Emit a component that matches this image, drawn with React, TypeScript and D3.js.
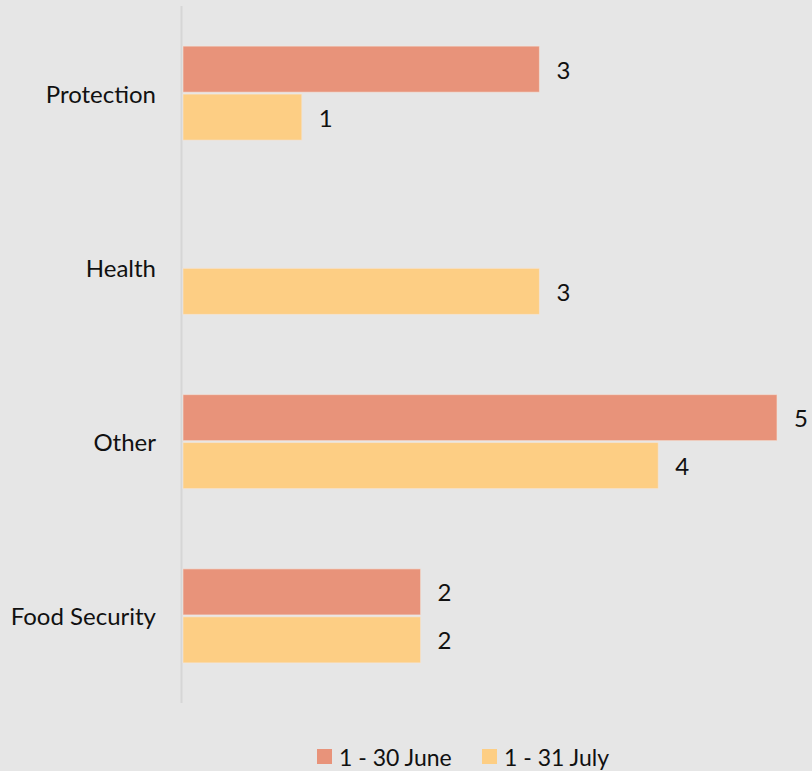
import React from "react";
import * as d3 from "d3";

const categories = ["Protection", "Health", "Other", "Food Security"];
const seriesNames = ["1 - 30 June", "1 - 31 July"];
const juneValues: (number | null)[] = [3, null, 5, 2];
const julyValues: (number | null)[] = [1, 3, 4, 2];
const colors = ["#e8937a", "#fdce84"];

const W = 812;
const H = 771;
const FONT = "Lato, 'Open Sans', sans-serif";

export default function App() {
  const x = d3.scaleLinear().domain([0, 5]).range([183, 777]);
  const y = d3.scaleBand<string>().domain(categories).range([6, 703]);
  const groupH = 94;
  const sub = d3
    .scaleBand<number>()
    .domain([0, 1])
    .range([0, groupH])
    .paddingInner(0.04);
  const series = [juneValues, julyValues];

  return (
    <svg
      width={W}
      height={H}
      style={{ position: "absolute", left: 0, top: 0, background: "#e6e6e6" }}
      fontFamily={FONT}
    >
      <rect x={0} y={0} width={W} height={H} fill="#e6e6e6" />
      <line x1={181.5} x2={181.5} y1={6} y2={703} stroke="#d6d6d6" strokeWidth={2} />
      {categories.map((c, i) => {
        const top = (y(c) as number) + y.bandwidth() / 2 - groupH / 2;
        return (
          <g key={c}>
            <text
              x={156}
              y={(y(c) as number) + y.bandwidth() / 2}
              textAnchor="end"
              dominantBaseline="central"
              fontSize={24}
              fill="#111"
            >
              {c}
            </text>
            {series.map((vals, s) => {
              const v = vals[i];
              if (v == null) return null;
              const by = top + (sub(s) as number);
              return (
                <g key={s}>
                  <rect
                    x={x(0)}
                    y={by}
                    width={x(v) - x(0)}
                    height={sub.bandwidth()}
                    fill={colors[s]}
                    stroke="#f3e6dc"
                    strokeOpacity={0.6}
                    strokeWidth={1}
                  />
                  <text
                    x={x(v) + 17}
                    y={by + sub.bandwidth() / 2}
                    dominantBaseline="central"
                    fontSize={24}
                    fill="#111"
                  >
                    {v}
                  </text>
                </g>
              );
            })}
          </g>
        );
      })}
      {seriesNames.map((n, s) => {
        const lx = [317, 482][s];
        return (
          <g key={n}>
            <rect x={lx} y={749} width={15} height={15} fill={colors[s]} />
            <text
              x={lx + 22}
              y={756.5}
              dominantBaseline="central"
              fontSize={23}
              fill="#111"
            >
              {n}
            </text>
          </g>
        );
      })}
    </svg>
  );
}
